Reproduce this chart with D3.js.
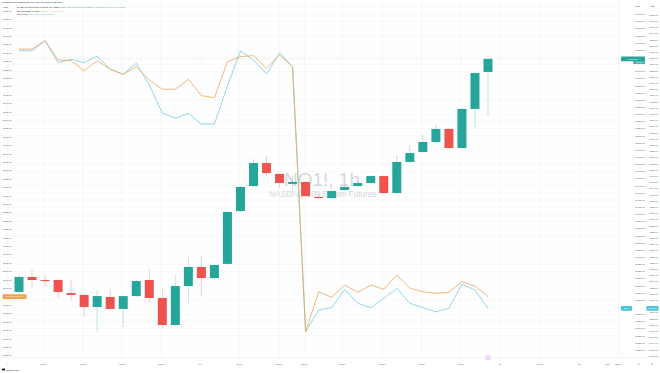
<!DOCTYPE html>
<html><head><meta charset="utf-8">
<script src="https://cdn.jsdelivr.net/npm/d3@7"></script>
<style>html,body{margin:0;padding:0;background:#fff;}svg{display:block;font-family:"Liberation Sans",Arial,sans-serif;}</style>
</head><body><svg id="c" width="660" height="373"></svg>
<script>
// ---- data ----
const opens  = [11291.25,11312.25,11308.00,11308.00,11289.75,11287.00,11270.25,11284.25,11267.50,11285.50,11308.00,11282.75,11245.00,11299.50,11326.25,11310.75,11330.50,11404.50,11439.50,11471.75,11456.50,11442.50,11445.25,11424.25,11422.75,11434.00,11439.50,11443.75,11453.50,11429.75,11473.25,11487.25,11501.25,11519.50,11492.75,11547.50,11599.25];
const highs  = [11315.00,11322.00,11316.50,11309.50,11308.00,11288.50,11294.00,11295.50,11287.00,11308.00,11323.50,11296.75,11315.00,11338.75,11341.50,11330.50,11404.50,11439.50,11477.50,11481.50,11457.75,11455.00,11446.50,11429.75,11434.00,11441.00,11445.25,11455.00,11455.00,11483.00,11497.00,11511.00,11526.50,11520.75,11548.75,11599.25,11618.75];
const lows   = [11289.75,11298.25,11299.50,11282.75,11280.00,11256.25,11235.25,11266.00,11242.25,11284.25,11275.75,11240.75,11243.50,11275.75,11285.50,11309.50,11329.00,11403.25,11438.25,11453.50,11436.75,11429.75,11424.25,11421.50,11421.50,11432.50,11438.25,11442.50,11428.50,11428.50,11471.75,11485.75,11499.75,11491.50,11491.50,11522.25,11539.00];
const closes = [11312.25,11308.00,11306.50,11291.25,11287.00,11270.25,11285.50,11267.50,11285.50,11306.50,11282.75,11245.00,11299.50,11326.25,11310.75,11329.00,11403.25,11438.25,11471.75,11457.75,11443.75,11445.25,11425.50,11422.75,11432.50,11438.25,11443.75,11453.50,11429.75,11473.25,11485.75,11501.25,11519.50,11492.75,11547.50,11597.75,11617.50];
const spxValues = [3932.3,3932.3,3937.3,3925.8,3925.4,3919.4,3925.4,3920.3,3917.3,3921.8,3913.9,3908.4,3908.4,3914.3,3904.6,3903.4,3924.8,3927.8,3928.4,3920.9,3928.8,3921.8,3764.1,3787.9,3784.6,3791.9,3787.6,3791.9,3789.4,3797.9,3790.0,3787.9,3787.0,3787.6,3793.9,3791.3,3785.0];
const ndxValues = [1188.48,1188.48,1191.71,1184.61,1185.71,1184.61,1186.77,1182.48,1180.87,1184.42,1177.42,1168.39,1166.68,1168.29,1164.84,1164.84,1177.10,1188.48,1185.48,1180.97,1187.84,1183.32,1097.83,1104.83,1105.58,1111.51,1107.00,1105.58,1108.61,1111.84,1107.00,1105.58,1104.29,1105.38,1113.13,1111.29,1105.38];
const timeTickIdx    = [-0.85, 1.85, 4.9, 7.9, 10.9, 13.9, 16.9, 19.95, 21.9, 24.8, 27.9, 30.9, 33.9, 36.9, 40, 43, 46];
const timeTickLabels = ["9", "03:00", "06:00", "09:00", "12:00", "10", "18:00", "21:00", "23:00", "02:00", "05:00", "08:00", "11:00", "11", "17:00", "12", "23:00"];
const titleText = "Published on TradingView.com, Jan 11, 2023 14:35 UTC";
const legendMain = "NASDAQ 100 E-mini Futures, 1h, CME";
const legendMainVals = "O11599.25 H11618.75 L11539.00 C11617.50 +19.75 (+0.17%)";
const legendSpx = "SPX500USD, OANDA";
const legendSpxVals = "3785.0 −6.3 (−0.17%)";
const legendNdx = "RUT, TVC";
const legendNdxVals = "1105.38 −5.91 (−0.53%)";

// ---- layout ----
const svg = d3.select("#c");
const W = 660, H = 373, plotT = 0, plotB = 358, plotR = 620;
const green = "#26a69a", red = "#ef5350", orange = "#f2a25a", cyan = "#6fd0e4";

const x = d3.scaleLinear().domain([0, 36]).range([19, 488]);
const yMain = d3.scaleLinear().domain([11198.8, 11700]).range([plotB, plotT]);
const yLeft = d3.scaleLinear().domain([3748.49, 3961.5]).range([plotB, plotT]);
const yRight = d3.scaleLinear().domain([1089.35, 1204.84]).range([plotB, plotT]);

const fs = 2.4;
const g = svg.append("g");

const last = closes[closes.length-1];
const lastN = ndxValues[ndxValues.length-1];
const lastS = spxValues[spxValues.length-1];
const yl = yMain(last), yn = yRight(lastN), ys = yLeft(lastS);

// grid
const mainTicks = d3.range(Math.ceil(11198.8/10)*10, 11700, 10);
g.append("g").selectAll("line").data(mainTicks).join("line")
  .attr("x1", 0).attr("x2", plotR).attr("y1", d=>yMain(d)).attr("y2", d=>yMain(d))
  .attr("stroke", "#eef0f4").attr("stroke-width", 0.4);
g.append("g").selectAll("line").data(timeTickIdx).join("line")
  .attr("x1", d=>x(d)).attr("x2", d=>x(d)).attr("y1", plotT).attr("y2", plotB)
  .attr("stroke", "#eceef2").attr("stroke-width", 0.5);

// borders
g.append("line").attr("x1",0).attr("x2",W).attr("y1",plotB).attr("y2",plotB).attr("stroke","#e6e8ee").attr("stroke-width",0.5);
g.append("line").attr("x1",plotR+1).attr("x2",plotR+1).attr("y1",0).attr("y2",plotB).attr("stroke","#eceef2").attr("stroke-width",0.4);

// watermark
g.append("text").attr("x", 322).attr("y", 186).attr("text-anchor","middle")
  .attr("font-size", 19).attr("fill", "#c9ccd3").attr("opacity",0.75).text("NQ1!, 1h");
g.append("text").attr("x", 323).attr("y", 197).attr("text-anchor","middle")
  .attr("font-size", 8.3).attr("fill", "#c9ccd3").attr("opacity",0.75).text("NASDAQ 100 E-mini Futures");

// last price line
g.append("line").attr("x1", 0).attr("x2", plotR).attr("y1", yl).attr("y2", yl)
  .attr("stroke", "#d9c6c6").attr("stroke-width", 0.5).attr("stroke-dasharray", "1,1");

// candles
const idx = d3.range(opens.length);
const bw = 9;
const cg = g.append("g");
cg.selectAll("line.w").data(idx).join("line").attr("class","w")
  .attr("x1", i=>x(i)).attr("x2", i=>x(i))
  .attr("y1", i=>yMain(highs[i])).attr("y2", i=>yMain(lows[i]))
  .attr("stroke", i=> closes[i]>=opens[i]?green:red).attr("stroke-width", 0.5).attr("opacity",0.6);
cg.selectAll("rect").data(idx).join("rect")
  .attr("x", i=>x(i)-bw/2).attr("width", bw)
  .attr("y", i=>yMain(Math.max(opens[i],closes[i])))
  .attr("height", i=>Math.max(0.8, Math.abs(yMain(opens[i])-yMain(closes[i]))))
  .attr("fill", i=> closes[i]>=opens[i]?green:red);

// comparison lines
g.append("path").datum(idx).attr("fill","none").attr("stroke",cyan).attr("stroke-width",0.8)
  .attr("d", d3.line().x(i=>x(i)).y(i=>yRight(ndxValues[i])));
g.append("path").datum(idx).attr("fill","none").attr("stroke",orange).attr("stroke-width",0.8)
  .attr("d", d3.line().x(i=>x(i)).y(i=>yLeft(spxValues[i])));

// axes labels
const ax = svg.append("g").attr("font-size", fs).attr("fill", "#50535e");
const fmt = d3.format(".2f");
ax.append("g").selectAll("text")
  .data(mainTicks.filter(d=>yMain(d)>10 && yMain(d)<356 && (yMain(d) < yl-3.5 || yMain(d) > yl+6) && Math.abs(yMain(d)-yn) > 3.5))
  .join("text")
  .attr("x", 645).attr("y", d=>yMain(d)+0.85).attr("text-anchor","end").text(d=>fmt(d));
const leftTicks = d3.range(Math.ceil(3748.49/5)*5, 3961.5, 5);
ax.append("g").selectAll("text")
  .data(leftTicks.filter(d=>yLeft(d)>9 && yLeft(d)<356 && Math.abs(yLeft(d)-ys) > 4))
  .join("text")
  .attr("x", 3).attr("y", d=>yLeft(d)+0.85).text(d=>fmt(d));
const rightTicks = d3.range(Math.ceil(1089.35/2)*2, 1204.84, 2);
ax.append("g").selectAll("text")
  .data(rightTicks.filter(d=>yRight(d)>10 && yRight(d)<356 && Math.abs(yRight(d)-yn) > 3.8))
  .join("text")
  .attr("x", 658).attr("y", d=>yRight(d)+0.85).attr("text-anchor","end").text(d=>fmt(d));
ax.append("text").attr("x",3).attr("y",7.8).text("USD");
ax.append("text").attr("x",635).attr("y",6.8).text("USD");
ax.append("text").attr("x",650).attr("y",6.8).text("USD");

// time axis
ax.append("g").selectAll("text").data(timeTickIdx).join("text")
  .attr("x", d=>x(d)).attr("y", 364.5).attr("text-anchor","middle")
  .text((d,i)=>timeTickLabels[i]);

// header / legend
const hd = svg.append("g").attr("font-size", fs);
hd.append("text").attr("x",2).attr("y",3.2).attr("fill","#131722").text(titleText);
const l1 = hd.append("text").attr("x",17).attr("y",7.8);
l1.append("tspan").attr("fill","#131722").text(legendMain+"  ");
l1.append("tspan").attr("fill",green).text(legendMainVals);
const l2 = hd.append("text").attr("x",17).attr("y",11.6);
l2.append("tspan").attr("fill","#131722").text(legendSpx+"  ");
l2.append("tspan").attr("fill",orange).text(legendSpxVals);
const l3 = hd.append("text").attr("x",17).attr("y",15.2);
l3.append("tspan").attr("fill","#131722").text(legendNdx+"  ");
l3.append("tspan").attr("fill","#4cc3dc").text(legendNdxVals);

// price tags
function tag(xl, w, yc, fill, txt){
  const t = svg.append("g");
  t.append("rect").attr("x", xl).attr("y", yc-2.4).attr("width", w).attr("height", 4.8).attr("rx",0.8).attr("fill", fill);
  t.append("text").attr("x", xl+w/2).attr("y", yc+0.85).attr("text-anchor","middle").attr("font-size", fs).attr("fill","#fff").text(txt);
}
svg.append("rect").attr("x",633).attr("y",yl+2.2).attr("width",12).attr("height",3).attr("fill","#4fb5ab");
svg.append("text").attr("x",639).attr("y",yl+4.5).attr("text-anchor","middle").attr("font-size",2.2).attr("fill","#fff").text("24:18");
tag(621, 24, yl, green, fmt(last));
tag(621, 11, yn, "#4cc3dc", "RUT");
tag(646.5, 12, yn, "#4cc3dc", fmt(lastN));
tag(2.5, 24, ys, "#f5a04d", "SPX500  " + d3.format(".1f")(lastS));

// event marker
svg.append("circle").attr("cx", x(36)).attr("cy", 358).attr("r", 2.2).attr("fill","#f3e5f5").attr("stroke","#ce93d8").attr("stroke-width",0.5);

// bottom-left logo
svg.append("rect").attr("x",2).attr("y",368.6).attr("width",3).attr("height",1.8).attr("fill","#131722");
svg.append("text").attr("x",5.8).attr("y",370.6).attr("font-size",fs).attr("fill","#131722").text("TradingView");
// bottom right controls
svg.append("text").attr("x",605).attr("y",364.5).attr("font-size",fs).attr("fill","#50535e").text("auto");
svg.append("text").attr("x",639).attr("y",364.5).attr("font-size",fs).attr("fill","#50535e").attr("text-anchor","middle").text("⚙");
svg.append("text").attr("x",652).attr("y",364.5).attr("font-size",fs).attr("fill","#50535e").attr("text-anchor","middle").text("⚙");
</script></body></html>
